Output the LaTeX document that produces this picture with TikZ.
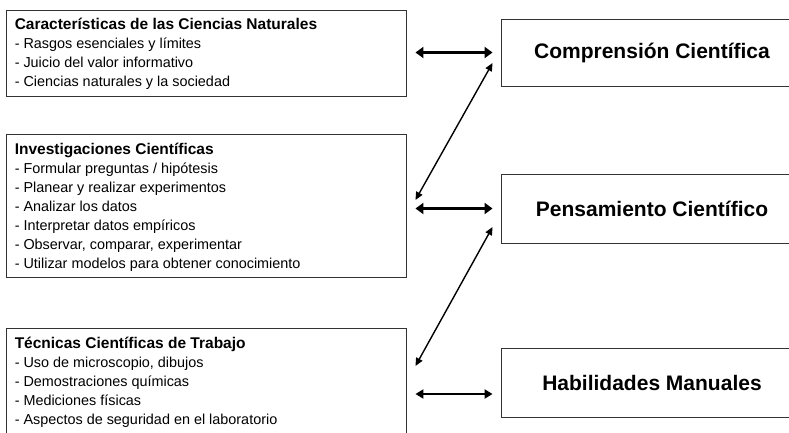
\documentclass[tikz,border=0pt]{standalone}
\usepackage{fontspec}
\setmainfont{Liberation Sans}
\usepackage{tikz}
\usetikzlibrary{positioning, arrows.meta, calc}

\newcommand{\boxtitle}[1]{{\fontsize{15.5}{19}\selectfont\bfseries #1}}

\begin{document}
\begin{tikzpicture}[
  x=1pt, y=1pt,
  lbox/.style={
    rectangle, draw=black!80, line width=0.9pt,
    minimum width=400pt, inner sep=0pt
  },
  rbox/.style={
    rectangle, draw=black!80, line width=0.9pt,
    minimum width=302pt, inner sep=0pt,
    font=\fontsize{21}{25}\selectfont\bfseries
  },
  content/.style={
    font=\fontsize{14.4}{19}\selectfont, align=left,
    inner sep=0pt, anchor=north west
  },
  bigarr/.style={
    {Triangle[length=8pt, width=11pt]}-{Triangle[length=8pt, width=11pt]},
    line width=3.5pt, shorten <=9pt, shorten >=8pt
  },
  midarr/.style={
    {Triangle[length=8pt, width=9pt]}-{Triangle[length=8pt, width=9pt]},
    line width=2pt, shorten <=9pt, shorten >=8pt
  },
  arr/.style={
    {Triangle[length=8pt, width=7pt]}-{Triangle[length=8pt, width=7pt]},
    line width=1.4pt
  },
]
\useasboundingbox (0,0) rectangle (789,-433);
\clip (0,0) rectangle (789,-433);

% Left boxes
\node[lbox, minimum height=86pt] (caract) at (206,-53) {};
\node[content] at ([shift={(9pt,-8.5pt)}]caract.north west) {
  \boxtitle{Características de las Ciencias Naturales}\\
  - Rasgos esenciales y límites\\
  - Juicio del valor informativo\\
  - Ciencias naturales y la sociedad
};

\node[lbox, minimum height=143pt] (invest) at (206,-205.5) {};
\node[content] at ([shift={(9pt,-9pt)}]invest.north west) {
  \boxtitle{Investigaciones Científicas}\\
  - Formular preguntas / hipótesis\\
  - Planear y realizar experimentos\\
  - Analizar los datos\\
  - Interpretar datos empíricos\\
  - Observar, comparar, experimentar\\
  - Utilizar modelos para obtener conocimiento
};

\node[lbox, minimum height=120pt] (tecnicas) at (206,-388) {};
\node[content] at ([shift={(9pt,-9pt)}]tecnicas.north west) {
  \boxtitle{Técnicas Científicas de Trabajo}\\
  - Uso de microscopio, dibujos\\
  - Demostraciones químicas\\
  - Mediciones físicas\\
  - Aspectos de seguridad en el laboratorio
};

% Right boxes
\node[rbox, minimum height=67pt] (compr) at (652,-52.5) {Comprensión Científica};
\node[rbox, minimum height=69pt] (pens) at (652,-208.5) {Pensamiento Científico};
\node[rbox, minimum height=69pt] (habil) at (652,-382.5) {Habilidades Manuales};

% Arrows
\coordinate (h3) at ([yshift=-11.5pt]habil.west);
\draw[bigarr] (caract.east |- compr.west) -- (compr.west);
\draw[bigarr] (invest.east |- pens.west) -- (pens.west);
\draw[midarr] (tecnicas.east |- h3) -- (h3);

\draw[arr] ([shift={(9pt,5.5pt)}]invest.east) -- ([shift={(-8pt,-10.5pt)}]compr.west);
\draw[arr] ([shift={(9pt,22pt)}]tecnicas.east) -- ([shift={(-8pt,-18.5pt)}]pens.west);

\end{tikzpicture}
\end{document}
